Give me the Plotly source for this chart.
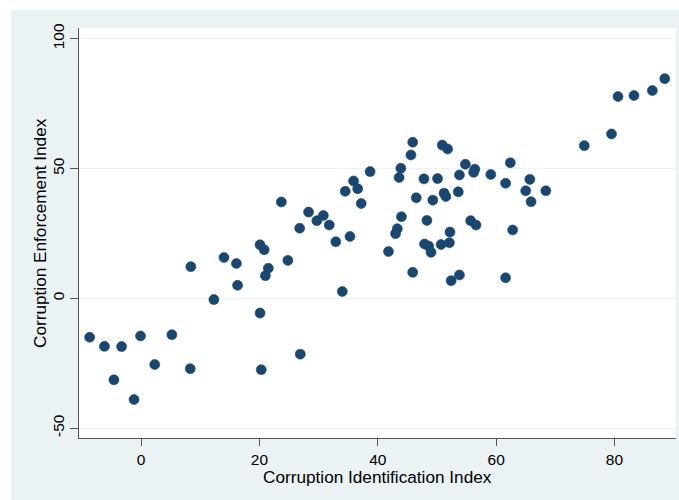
import plotly.graph_objects as go

# Corruption Identification Index (x) and Corruption Enforcement Index (y)
identification = [
    -8.7, -6.2, -3.3, -4.6, -1.2, -0.1, 2.3, 5.2, 8.3, 8.4,
    12.3, 14.0, 16.1, 16.3, 23.7, 20.1, 20.8, 21.5, 21.0, 24.8,
    20.1, 26.9, 20.3, 34.0, 26.8, 28.3, 29.7, 30.8, 31.8, 32.9,
    35.3, 34.5, 35.9, 36.6, 37.2, 38.7, 45.9, 45.6, 50.9, 51.8,
    43.9, 43.6, 47.8, 50.1, 53.8, 46.5, 49.3, 51.2, 51.5, 53.6,
    44.0, 48.3, 43.3, 43.0, 41.8, 47.9, 48.6, 49.0, 50.7, 52.1,
    52.2, 45.9, 52.4, 53.8, 54.8, 56.4, 56.2, 59.1, 62.4, 61.6,
    65.7, 65.0, 65.9, 68.4, 55.7, 56.6, 62.8, 61.6, 74.9, 79.5,
    80.6, 83.3, 86.4, 88.5,
]
enforcement = [
    -15.0, -18.5, -18.6, -31.4, -39.0, -14.5, -25.5, -14.0, -27.1, 12.2,
    -0.5, 15.7, 13.4, 5.0, 37.1, 20.6, 18.7, 11.6, 8.7, 14.6,
    -5.7, -21.5, -27.5, 2.6, 27.0, 33.2, 29.9, 31.9, 28.2, 21.8,
    23.8, 41.2, 45.2, 42.2, 36.5, 48.8, 60.1, 55.2, 59.0, 57.5,
    50.1, 46.5, 46.0, 46.1, 47.5, 38.7, 37.8, 40.5, 39.2, 41.0,
    31.4, 30.0, 26.8, 24.9, 18.0, 20.9, 20.1, 17.7, 20.7, 21.4,
    25.5, 10.0, 6.8, 9.0, 51.6, 49.7, 48.5, 47.7, 52.2, 44.3,
    45.8, 41.4, 37.2, 41.4, 29.9, 28.2, 26.3, 7.9, 58.8, 63.3,
    77.7, 78.1, 80.0, 84.6,
]

x_ticks = [0, 20, 40, 60, 80]
y_ticks = [-50, 0, 50, 100]
x_title = "Corruption Identification Index"
y_title = "Corruption Enforcement Index"

W, H = 679, 500
L, R, T, B = 79, 3, 28, 62
pw, ph = W - L - R, H - T - B

def px_x(p):
    return (p - L) / pw

def px_y(p):
    return (H - B - p) / ph

BG = "#EAF2F3"
NAVY = "#1a476f"
FONT = "Liberation Sans, Arial, sans-serif"

fig = go.Figure()
fig.add_trace(go.Scatter(
    x=identification, y=enforcement, mode="markers",
    marker=dict(size=10, color=NAVY, line=dict(width=0.6, color=NAVY)),
    showlegend=False, hoverinfo="x+y",
))

fig.update_layout(
    width=W, height=H,
    margin=dict(l=L, r=R, t=T, b=B, autoexpand=False),
    paper_bgcolor=BG, plot_bgcolor="white",
    font=dict(family=FONT, size=15.5, color="black"),
    xaxis=dict(
        range=[-10.5, 90.4], tickvals=x_ticks, ticktext=[str(v) for v in x_ticks],
        showgrid=False, zeroline=False, showline=True, linecolor="#555555", linewidth=1,
        ticks="outside", ticklen=7, tickcolor="#555555", tickwidth=1,
        tickfont=dict(size=15.5, family=FONT, color="black"),
    ),
    yaxis=dict(
        range=[-53.8, 104.1], tickvals=y_ticks, ticktext=[str(v) for v in y_ticks],
        showgrid=True, gridcolor=BG, gridwidth=1.2,
        zeroline=False, showline=True, linecolor="#555555", linewidth=1,
        ticks="outside", ticklen=8, tickcolor="#555555", tickwidth=1,
        tickangle=-90,
        tickfont=dict(size=15.5, family=FONT, color="black"),
    ),
    shapes=[
        dict(type="rect", xref="paper", yref="paper", layer="below",
             x0=px_x(0), x1=px_x(W), y0=px_y(10), y1=px_y(-5),
             fillcolor="white", line=dict(width=0)),
        dict(type="rect", xref="paper", yref="paper", layer="below",
             x0=px_x(-5), x1=px_x(11), y0=px_y(H + 5), y1=px_y(-5),
             fillcolor="white", line=dict(width=0)),
    ],
    annotations=[
        dict(text=x_title, xref="paper", yref="paper", x=px_x(377.5), y=px_y(477),
             xanchor="center", yanchor="middle", showarrow=False,
             font=dict(size=17.2, family=FONT, color="black")),
        dict(text=y_title, xref="paper", yref="paper", x=px_x(40), y=px_y(233),
             xanchor="center", yanchor="middle", showarrow=False, textangle=-90,
             font=dict(size=17.2, family=FONT, color="black")),
    ],
)

fig.write_html(
    "out.html",
    config={"displayModeBar": False},
    post_script="document.body.style.margin='0';document.body.style.overflow='hidden';",
)
